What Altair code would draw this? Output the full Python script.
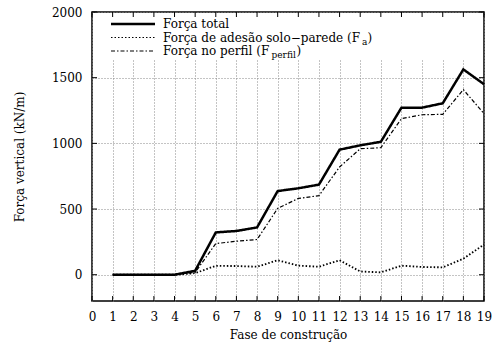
import altair as alt
import pandas as pd

# ---- data ----
fase = list(range(1, 20))
forca_total = [0, 0, 0, 0, 30, 322, 333, 360, 637, 658, 686, 952, 985, 1012, 1272, 1272, 1305, 1563, 1450]
forca_adesao = [0, 0, 0, 0, 12, 68, 66, 61, 110, 69, 61, 110, 25, 18, 69, 59, 56, 122, 230]
forca_perfil = [0, 0, 0, 0, 18, 237, 255, 268, 505, 581, 602, 820, 959, 967, 1188, 1218, 1221, 1409, 1226]
series_names = ["Força total", "Força de adesão solo−parede", "Força no perfil"]
x_ticks = list(range(0, 20))
y_ticks = [0, 500, 1000, 1500, 2000]

rows = []
for name, vals in zip(series_names, [forca_total, forca_adesao, forca_perfil]):
    for f, v in zip(fase, vals):
        rows.append({"fase": f, "forca": v, "serie": name})
df = pd.DataFrame(rows)
df_xt = pd.DataFrame({"fase": x_ticks})
df_yt = pd.DataFrame({"forca": y_ticks})
one = pd.DataFrame({"k": [0]})

FONT = "DejaVu Serif"
FS = 12
W, H = 392, 289

xscale = alt.Scale(domain=[0, 19], nice=False, zero=False)
yscale = alt.Scale(domain=[-200, 2000], nice=False, zero=False)

xaxis = alt.Axis(values=x_ticks, title="Fase de construção", grid=True, format="d",
                 labelPadding=10, titlePadding=7, labelOverlap=False, labelFlush=False)
yaxis = alt.Axis(values=y_ticks, title="Força vertical (kN/m)", grid=True, format="d",
                 labelPadding=10, titlePadding=25, labelOverlap=False, labelFlush=False)

dashes = [[1, 0], [1.5, 2], [4, 2, 1.5, 2]]
widths = [2.5, 1.2, 1.1]

lines = alt.Chart(df).mark_line(color="black", strokeCap="butt").encode(
    x=alt.X("fase:Q", scale=xscale, axis=xaxis),
    y=alt.Y("forca:Q", scale=yscale, axis=yaxis),
    strokeDash=alt.StrokeDash("serie:N", scale=alt.Scale(domain=series_names, range=dashes), legend=None),
    strokeWidth=alt.StrokeWidth("serie:N", scale=alt.Scale(domain=series_names, range=widths), legend=None),
)

# opaque key box (hides grid behind the key)
keybox = alt.Chart(one).mark_rect(color="white").encode(
    x=alt.value(1), x2=alt.value(W - 1), y=alt.value(1), y2=alt.value(48)
)

# inward ticks on all four sides
tick_b = alt.Chart(df_xt).mark_rule(color="black", strokeWidth=1).encode(
    x=alt.X("fase:Q", scale=xscale, axis=xaxis), y=alt.value(H), y2=alt.value(H - 5))
tick_t = alt.Chart(df_xt).mark_rule(color="black", strokeWidth=1).encode(
    x=alt.X("fase:Q", scale=xscale, axis=xaxis), y=alt.value(0), y2=alt.value(5))
tick_l = alt.Chart(df_yt).mark_rule(color="black", strokeWidth=1).encode(
    y=alt.Y("forca:Q", scale=yscale, axis=yaxis), x=alt.value(0), x2=alt.value(5))
tick_r = alt.Chart(df_yt).mark_rule(color="black", strokeWidth=1).encode(
    y=alt.Y("forca:Q", scale=yscale, axis=yaxis), x=alt.value(W), x2=alt.value(W - 5))

# manual key
row_y = [12, 25.5, 39]
key_layers = []
for i in range(3):
    key_layers.append(
        alt.Chart(one).mark_rule(color="black", strokeWidth=widths[i], strokeDash=dashes[i],
                                 strokeCap="butt").encode(
            x=alt.value(19), x2=alt.value(63), y=alt.value(row_y[i]))
    )

key_texts = [
    ("Força total", 71, row_y[0], FS),
    ("Força de adesão solo−parede (F", 71, row_y[1], FS),
    ("a", 270, row_y[1] + 4, 9),
    (")", 275.5, row_y[1], FS),
    ("Força no perfil (F", 71, row_y[2], FS),
    ("perfil", 179.5, row_y[2] + 4, 9),
    (")", 204.5, row_y[2], FS),
]
for txt, tx, ty, fs in key_texts:
    key_layers.append(
        alt.Chart(one).mark_text(text=txt, align="left", baseline="middle", font=FONT,
                                 fontSize=fs, color="black").encode(
            x=alt.value(tx), y=alt.value(ty))
    )

chart = alt.layer(keybox, lines, tick_b, tick_t, tick_l, tick_r, *key_layers).properties(
    width=W, height=H,
    autosize=alt.AutoSizeParams(type="none"),
    padding={"left": 92, "top": 12, "right": 13, "bottom": 52},
    background="white",
).configure_view(
    stroke="black", strokeWidth=1.5
).configure_axis(
    labelFont=FONT, labelFontSize=FS, labelColor="black",
    titleFont=FONT, titleFontSize=FS, titleFontWeight="normal", titleColor="black",
    domain=False, ticks=False,
    gridColor="#888888", gridDash=[1, 2], gridWidth=1, gridOpacity=1,
).configure_text(font=FONT)

chart.save("out.html", embed_options={"renderer": "svg", "actions": False})
